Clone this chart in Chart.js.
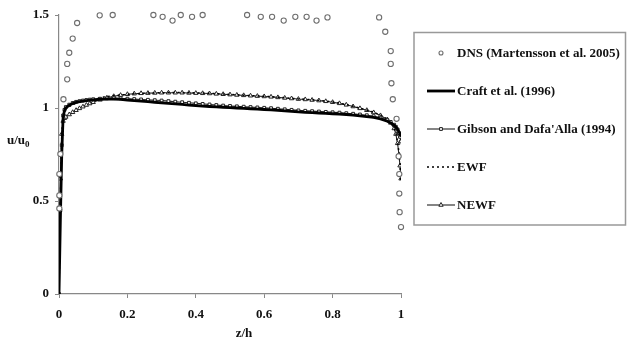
<!DOCTYPE html>
<html>
<head>
<meta charset="utf-8">
<script src="https://cdn.jsdelivr.net/npm/chart.js@4.4.1/dist/chart.umd.min.js"></script>
<style>
  html, body { margin: 0; padding: 0; background: #fff; }
  #wrap { width: 627px; height: 340px; position: relative; }
</style>
</head>
<body>
<div id="wrap"><canvas id="myChart" width="627" height="340"></canvas></div>
<script>
// series names (legend order)
const seriesNames = ['DNS (Martensson et al. 2005)', 'Craft et al. (1996)', "Gibson and Dafa'Alla (1994)", 'EWF', 'NEWF'];

// DNS points
const zDns = [0.001, 0.001, 0.001, 0.004, 0.013, 0.024, 0.024, 0.03, 0.04, 0.053, 0.119, 0.157, 0.276, 0.303, 0.332, 0.356, 0.389, 0.42,
  0.55, 0.59, 0.623, 0.657, 0.691, 0.724, 0.753, 0.785, 0.936, 0.954, 0.97, 0.97, 0.972, 0.976, 0.987, 0.993, 0.995, 0.995, 0.996, 1.0];
const uDns = [0.46, 0.53, 0.645, 0.753, 1.047, 1.154, 1.237, 1.297, 1.373, 1.457, 1.498, 1.5, 1.5, 1.49, 1.47, 1.5, 1.49, 1.5,
  1.5, 1.49, 1.49, 1.47, 1.49, 1.49, 1.47, 1.487, 1.487, 1.41, 1.306, 1.237, 1.133, 1.047, 0.942, 0.74, 0.645, 0.54, 0.44, 0.36];

// model curves share one z/h grid
const zModel = [0, 0.004, 0.008, 0.012, 0.016, 0.02, 0.03, 0.04, 0.05, 0.06, 0.07, 0.08, 0.09, 0.1,
  0.12, 0.14, 0.16, 0.18, 0.2, 0.22, 0.24, 0.26, 0.28, 0.3, 0.32, 0.34, 0.36, 0.38, 0.4, 0.42, 0.44, 0.46, 0.48, 0.5,
  0.52, 0.54, 0.56, 0.58, 0.6, 0.62, 0.64, 0.66, 0.68, 0.7, 0.72, 0.74, 0.76, 0.78, 0.8, 0.82, 0.84, 0.86, 0.88, 0.9,
  0.92, 0.94, 0.96, 0.97, 0.98, 0.985, 0.99, 0.994, 0.997, 1];

const uCraft = [0, 0.4, 0.75, 0.95, 0.985, 1.0, 1.015, 1.024, 1.03, 1.034, 1.037, 1.04, 1.042, 1.044,
  1.047, 1.048, 1.048, 1.046, 1.043, 1.04, 1.037, 1.034, 1.031, 1.028, 1.025, 1.022, 1.019, 1.016, 1.013, 1.01, 1.008, 1.006, 1.004, 1.002,
  1.0, 0.998, 0.996, 0.994, 0.992, 0.99, 0.988, 0.985, 0.982, 0.979, 0.977, 0.975, 0.973, 0.971, 0.969, 0.967, 0.965, 0.962, 0.958, 0.954,
  0.949, 0.941, 0.929, 0.92, 0.907, 0.898, 0.886, 0.873, 0.86, 0.845];

const uGibson = [0, 0.45, 0.8, 0.96, 0.99, 1.005, 1.018, 1.027, 1.033, 1.037, 1.04, 1.043, 1.045, 1.047,
  1.05, 1.052, 1.053, 1.052, 1.05, 1.048, 1.046, 1.044, 1.042, 1.04, 1.037, 1.034, 1.031, 1.028, 1.025, 1.022, 1.019, 1.016, 1.013, 1.011,
  1.009, 1.007, 1.005, 1.003, 1.001, 0.999, 0.996, 0.993, 0.99, 0.987, 0.985, 0.983, 0.981, 0.979, 0.977, 0.975, 0.972, 0.969, 0.965, 0.961,
  0.956, 0.948, 0.935, 0.925, 0.91, 0.899, 0.885, 0.865, 0.845, 0.82];

const uEwf = [0, 0.5, 0.85, 0.96, 0.985, 0.995, 1.008, 1.018, 1.026, 1.032, 1.037, 1.042, 1.046, 1.05,
  1.056, 1.062, 1.066, 1.07, 1.073, 1.076, 1.078, 1.08, 1.081, 1.082, 1.083, 1.083, 1.083, 1.082, 1.081, 1.08, 1.079, 1.077, 1.075, 1.073,
  1.071, 1.069, 1.067, 1.065, 1.063, 1.061, 1.058, 1.055, 1.052, 1.049, 1.047, 1.044, 1.041, 1.037, 1.032, 1.026, 1.018, 1.009, 0.999, 0.989,
  0.977, 0.962, 0.94, 0.922, 0.893, 0.865, 0.818, 0.76, 0.7, 0.6];

const uNewf = [0, 0.62, 0.86, 0.93, 0.945, 0.952, 0.965, 0.977, 0.988, 0.998, 1.007, 1.016, 1.024, 1.031,
  1.044, 1.055, 1.063, 1.069, 1.074, 1.077, 1.079, 1.08, 1.081, 1.082, 1.082, 1.082, 1.082, 1.081, 1.08, 1.079, 1.078, 1.076, 1.074, 1.072,
  1.07, 1.068, 1.066, 1.064, 1.062, 1.06, 1.057, 1.054, 1.051, 1.048, 1.046, 1.043, 1.04, 1.036, 1.031, 1.025, 1.017, 1.008, 0.998, 0.988,
  0.976, 0.96, 0.938, 0.92, 0.89, 0.86, 0.81, 0.75, 0.69, 0.62];

const xTicks = [0, 0.2, 0.4, 0.6, 0.8, 1];
const yTicks = [0, 0.5, 1, 1.5];

const FONT = '"Liberation Serif", "Times New Roman", serif';

function pts(xs, ys) {
  return xs.map((x, i) => ({ x: x, y: ys[i] }));
}

// legend box + axis titles drawn on the canvas
const extras = {
  id: 'extras',
  afterDraw(chart) {
    const ctx = chart.ctx;
    ctx.save();
    // legend frame
    ctx.strokeStyle = '#999';
    ctx.lineWidth = 1.5;
    ctx.strokeRect(414, 32.5, 211.5, 192.5);

    ctx.font = 'bold 13px ' + FONT;
    ctx.textBaseline = 'middle';
    const rows = [53, 91, 129, 167, 205];
    const x0 = 427, x1 = 455, xm = 441;
    chart.data.datasets.forEach((ds, i) => {
      const y = rows[i];
      if (ds.showLine) {
        ctx.save();
        ctx.strokeStyle = ds.borderColor;
        ctx.lineWidth = ds.borderWidth;
        ctx.setLineDash(ds.borderDash || []);
        ctx.beginPath();
        ctx.moveTo(x0, y);
        ctx.lineTo(x1, y);
        ctx.stroke();
        ctx.restore();
      }
      if (ds.pointRadius > 0) {
        ctx.save();
        ctx.strokeStyle = ds.pointBorderColor;
        ctx.fillStyle = ds.pointBackgroundColor;
        ctx.lineWidth = ds.pointBorderWidth;
        Chart.helpers.drawPoint(ctx, {
          pointStyle: ds.pointStyle,
          radius: i === 0 ? 2 : ds.pointRadius,
          borderWidth: ds.pointBorderWidth,
          rotation: 0
        }, xm, y);
        ctx.restore();
      }
      ctx.fillStyle = '#111';
      ctx.fillText(ds.label, 457, y + 1);
    });

    // y title u/u0, horizontal
    ctx.textBaseline = 'alphabetic';
    ctx.font = 'bold 13px ' + FONT;
    ctx.fillText('u/u', 7, 144);
    const w = ctx.measureText('u/u').width;
    ctx.font = 'bold 9px ' + FONT;
    ctx.fillText('0', 7 + w, 147);

    // x title
    ctx.font = 'bold 13px ' + FONT;
    ctx.textAlign = 'center';
    ctx.fillText('z/h', 244, 337);
    ctx.restore();
  }
};

new Chart(document.getElementById('myChart'), {
  type: 'scatter',
  data: {
    datasets: [
      {
        label: seriesNames[0],
        data: pts(zDns, uDns),
        showLine: false,
        pointStyle: 'circle',
        pointRadius: 2.6,
        pointBorderWidth: 1.1,
        borderColor: '#6e6e6e',
        pointBorderColor: '#6e6e6e',
        pointBackgroundColor: '#fff',
        order: 0,
        clip: false
      },
      {
        label: seriesNames[1],
        data: pts(zModel, uCraft),
        showLine: true,
        borderColor: '#000',
        borderWidth: 2.8,
        pointRadius: 0,
        order: 1
      },
      {
        label: seriesNames[2],
        data: pts(zModel, uGibson),
        showLine: true,
        borderColor: '#222',
        borderWidth: 1.1,
        pointStyle: 'rect',
        pointRadius: 2,
        pointBorderWidth: 1,
        pointBorderColor: '#222',
        pointBackgroundColor: '#fff',
        order: 2
      },
      {
        label: seriesNames[3],
        data: pts(zModel, uEwf),
        showLine: true,
        borderColor: '#000',
        borderWidth: 1.5,
        borderDash: [2, 3],
        pointRadius: 0,
        order: 3
      },
      {
        label: seriesNames[4],
        data: pts(zModel, uNewf),
        showLine: true,
        borderColor: '#222',
        borderWidth: 1.1,
        pointStyle: 'triangle',
        pointRadius: 2.5,
        pointBorderWidth: 1,
        pointBorderColor: '#222',
        pointBackgroundColor: '#fff',
        order: 4
      }
    ]
  },
  options: {
    responsive: false,
    animation: false,
    events: [],
    layout: { padding: { top: 15, right: 226, left: 0, bottom: 0 } },
    plugins: {
      legend: { display: false },
      tooltip: { enabled: false }
    },
    scales: {
      x: {
        type: 'linear',
        min: 0,
        max: 1,
        afterBuildTicks: (s) => { s.ticks = xTicks.map(v => ({ value: v })); },
        afterFit: (s) => { s.height = 46; },
        grid: { drawOnChartArea: false, drawTicks: true, tickLength: 4, color: '#888' },
        border: { color: '#888', width: 1.2 },
        ticks: { color: '#111', padding: 9, font: { family: FONT, size: 13, weight: 'bold' }, callback: (v) => String(v) }
      },
      y: {
        type: 'linear',
        min: 0,
        max: 1.5,
        afterBuildTicks: (s) => { s.ticks = yTicks.map(v => ({ value: v })); },
        afterFit: (s) => { s.width = 59; },
        grid: { drawOnChartArea: false, drawTicks: true, tickLength: 4, color: '#888' },
        border: { color: '#888', width: 1.2 },
        ticks: { color: '#111', padding: 6, font: { family: FONT, size: 13, weight: 'bold' }, callback: (v) => String(v) }
      }
    }
  },
  plugins: [extras]
});
</script>
</body>
</html>
